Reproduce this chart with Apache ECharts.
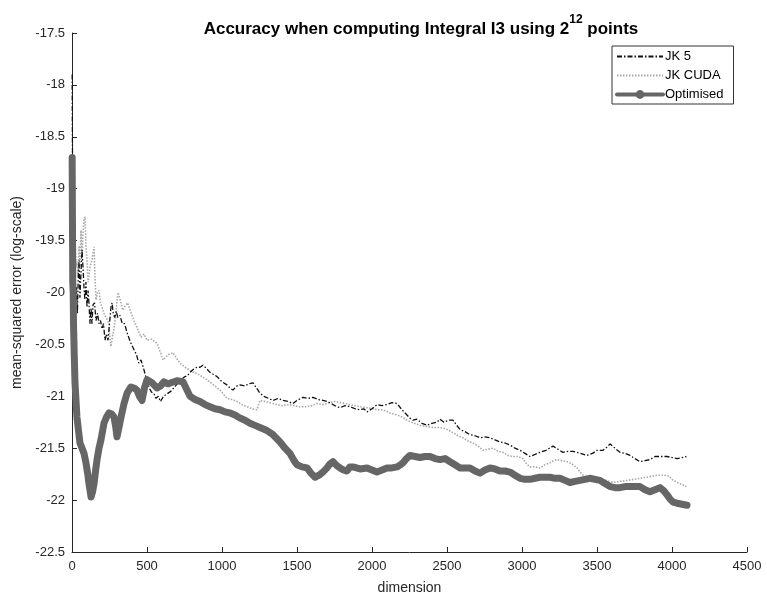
<!DOCTYPE html>
<html><head><meta charset="utf-8">
<script src="https://cdn.jsdelivr.net/npm/echarts@6/dist/echarts.min.js"></script>
<style>html,body{margin:0;padding:0;background:#fff}#c{width:767px;height:603px}</style>
</head><body><div id="c"></div>
<script>
var seriesNames = ['JK 5', 'JK CUDA', 'Optimised'];
var xTicks = [0, 500, 1000, 1500, 2000, 2500, 3000, 3500, 4000, 4500];
var yTicks = [-22.5, -22, -21.5, -21, -20.5, -20, -19.5, -19, -18.5, -18, -17.5];

var jk5 = [[1,-17.9],[2,-18.3],[4,-18.9],[6,-19.4],[9,-19.8],[13,-20.05],[18,-19.85],[24,-20.15],[30,-19.95],[36,-20.2],[41,-19.9],[47,-19.69],[53,-20.05],[60,-19.8],[67,-19.59],[73,-19.75],[80,-19.95],[86,-20.07],[93,-19.9],[100,-20.14],[107,-19.98],[113,-20.1],[120,-20.3],[127,-20.15],[133,-20.3],[140,-20.12],[150,-20.1],[160,-20.27],[170,-20.2],[180,-20.3],[190,-20.27],[200,-20.35],[210,-20.3],[220,-20.46],[230,-20.4],[240,-20.46],[250,-20.3],[260,-20.14],[267,-20.1],[275,-20.2],[285,-20.24],[295,-20.18],[305,-20.24],[320,-20.22],[335,-20.3],[350,-20.3],[370,-20.4],[390,-20.48],[413,-20.55],[430,-20.6],[445,-20.68],[460,-20.65],[475,-20.72],[490,-20.8],[500,-20.86],[515,-20.92],[530,-20.96],[545,-20.97],[560,-21.02],[575,-21.0],[590,-21.05],[610,-21.0],[630,-20.98],[660,-20.95],[690,-20.9],[720,-20.85],[753,-20.81],[770,-20.8],[787,-20.77],[810,-20.74],[833,-20.72],[853,-20.72],[873,-20.7],[895,-20.73],[920,-20.77],[945,-20.79],[967,-20.81],[1000,-20.86],[1033,-20.89],[1053,-20.92],[1073,-20.94],[1100,-20.9],[1120,-20.89],[1150,-20.9],[1180,-20.88],[1207,-20.87],[1230,-20.92],[1253,-20.97],[1280,-21.0],[1310,-21.02],[1340,-21.04],[1375,-21.02],[1407,-21.04],[1440,-21.05],[1473,-21.07],[1500,-21.04],[1540,-21.01],[1575,-21.02],[1607,-21.01],[1640,-21.03],[1673,-21.04],[1705,-21.05],[1740,-21.08],[1765,-21.1],[1787,-21.11],[1820,-21.09],[1853,-21.1],[1887,-21.12],[1920,-21.13],[1945,-21.12],[1967,-21.15],[2000,-21.12],[2033,-21.08],[2067,-21.09],[2100,-21.08],[2133,-21.06],[2167,-21.07],[2200,-21.13],[2233,-21.18],[2253,-21.21],[2273,-21.23],[2300,-21.22],[2333,-21.26],[2367,-21.28],[2400,-21.26],[2433,-21.25],[2453,-21.22],[2480,-21.25],[2510,-21.23],[2540,-21.23],[2565,-21.28],[2587,-21.32],[2620,-21.34],[2653,-21.37],[2687,-21.38],[2720,-21.4],[2753,-21.39],[2787,-21.4],[2820,-21.42],[2853,-21.44],[2887,-21.45],[2920,-21.47],[2953,-21.5],[2987,-21.52],[3020,-21.55],[3053,-21.58],[3087,-21.56],[3120,-21.54],[3160,-21.52],[3207,-21.48],[3240,-21.51],[3273,-21.54],[3307,-21.53],[3340,-21.53],[3390,-21.55],[3433,-21.57],[3470,-21.55],[3500,-21.52],[3540,-21.52],[3565,-21.49],[3587,-21.46],[3620,-21.5],[3653,-21.54],[3687,-21.55],[3720,-21.57],[3753,-21.6],[3787,-21.63],[3820,-21.62],[3853,-21.61],[3887,-21.58],[3927,-21.58],[3967,-21.58],[4000,-21.59],[4033,-21.6],[4067,-21.59],[4096,-21.58]];

var jkCuda = [[1,-19.9],[5,-19.5],[13,-19.6],[20,-19.47],[27,-19.75],[33,-19.7],[40,-19.85],[47,-19.55],[53,-19.75],[60,-19.4],[67,-19.66],[73,-19.45],[80,-19.3],[87,-19.27],[93,-19.55],[100,-19.69],[107,-19.9],[113,-19.85],[120,-19.75],[133,-19.69],[140,-19.62],[147,-19.56],[153,-19.85],[160,-20.07],[170,-20.0],[180,-19.98],[190,-20.1],[200,-20.14],[213,-20.2],[230,-20.25],[247,-20.3],[253,-20.45],[260,-20.52],[270,-20.42],[280,-20.35],[287,-20.27],[293,-20.2],[300,-20.08],[307,-20.0],[317,-20.05],[327,-20.1],[337,-20.17],[347,-20.17],[358,-20.12],[370,-20.1],[390,-20.18],[413,-20.27],[437,-20.35],[460,-20.43],[480,-20.4],[500,-20.46],[530,-20.45],[567,-20.49],[590,-20.58],[607,-20.65],[640,-20.6],[673,-20.58],[700,-20.64],[720,-20.68],[753,-20.72],[787,-20.75],[810,-20.77],[833,-20.78],[867,-20.81],[900,-20.84],[943,-20.89],[987,-20.94],[1010,-20.98],[1033,-21.02],[1067,-21.03],[1100,-21.05],[1133,-21.08],[1167,-21.1],[1200,-21.12],[1233,-21.13],[1253,-21.04],[1290,-21.05],[1340,-21.07],[1400,-21.09],[1453,-21.08],[1510,-21.1],[1567,-21.1],[1600,-21.09],[1633,-21.07],[1673,-21.08],[1720,-21.06],[1753,-21.05],[1787,-21.06],[1820,-21.07],[1853,-21.08],[1887,-21.09],[1920,-21.1],[1967,-21.11],[2007,-21.12],[2040,-21.13],[2073,-21.13],[2120,-21.16],[2167,-21.18],[2200,-21.2],[2233,-21.23],[2280,-21.26],[2320,-21.28],[2367,-21.29],[2407,-21.3],[2447,-21.3],[2487,-21.31],[2540,-21.35],[2573,-21.38],[2607,-21.4],[2640,-21.43],[2673,-21.45],[2707,-21.48],[2740,-21.52],[2773,-21.51],[2807,-21.5],[2840,-21.53],[2873,-21.54],[2907,-21.57],[2940,-21.58],[2973,-21.58],[3007,-21.6],[3030,-21.65],[3053,-21.68],[3087,-21.68],[3120,-21.69],[3153,-21.66],[3187,-21.64],[3210,-21.62],[3233,-21.61],[3267,-21.62],[3300,-21.63],[3333,-21.65],[3367,-21.69],[3387,-21.73],[3407,-21.76],[3440,-21.78],[3473,-21.79],[3520,-21.79],[3560,-21.81],[3607,-21.83],[3650,-21.82],[3700,-21.81],[3745,-21.8],[3787,-21.79],[3827,-21.78],[3867,-21.77],[3900,-21.76],[3953,-21.76],[3980,-21.77],[4000,-21.8],[4033,-21.83],[4067,-21.85],[4096,-21.87]];

var optimised = [[1,-18.7],[3,-19.3],[5,-19.9],[8,-20.0],[10,-20.3],[15,-20.6],[20,-20.87],[33,-21.2],[53,-21.45],[80,-21.55],[93,-21.64],[105,-21.75],[113,-21.84],[127,-21.97],[137,-21.92],[147,-21.84],[157,-21.72],[167,-21.61],[180,-21.5],[193,-21.42],[213,-21.26],[230,-21.2],[247,-21.16],[265,-21.17],[280,-21.2],[292,-21.3],[300,-21.39],[313,-21.3],[327,-21.2],[347,-21.07],[367,-20.97],[393,-20.91],[413,-20.92],[433,-20.94],[450,-21.0],[467,-21.04],[483,-20.92],[500,-20.84],[533,-20.87],[567,-20.92],[590,-20.9],[613,-20.86],[640,-20.88],[660,-20.87],[700,-20.85],[740,-20.86],[760,-20.92],[787,-21.0],[820,-21.03],[853,-21.05],[887,-21.08],[920,-21.1],[953,-21.12],[987,-21.13],[1020,-21.15],[1053,-21.16],[1087,-21.18],[1120,-21.21],[1153,-21.23],[1187,-21.26],[1220,-21.28],[1253,-21.3],[1300,-21.33],[1340,-21.37],[1387,-21.44],[1420,-21.5],[1453,-21.55],[1480,-21.62],[1500,-21.66],[1533,-21.68],[1567,-21.69],[1593,-21.74],[1620,-21.78],[1647,-21.76],[1673,-21.73],[1700,-21.69],[1720,-21.65],[1740,-21.63],[1767,-21.67],[1787,-21.69],[1810,-21.71],[1833,-21.72],[1853,-21.68],[1873,-21.68],[1920,-21.7],[1967,-21.69],[2000,-21.71],[2033,-21.73],[2067,-21.71],[2100,-21.69],[2133,-21.69],[2167,-21.68],[2190,-21.66],[2207,-21.64],[2230,-21.6],[2253,-21.57],[2287,-21.58],[2320,-21.59],[2353,-21.58],[2387,-21.58],[2420,-21.6],[2453,-21.61],[2487,-21.6],[2520,-21.63],[2553,-21.66],[2587,-21.69],[2620,-21.69],[2653,-21.69],[2687,-21.72],[2720,-21.74],[2753,-21.71],[2787,-21.69],[2820,-21.7],[2853,-21.72],[2887,-21.72],[2920,-21.73],[2953,-21.76],[2987,-21.79],[3020,-21.8],[3053,-21.8],[3087,-21.79],[3120,-21.78],[3153,-21.78],[3187,-21.78],[3220,-21.79],[3253,-21.79],[3287,-21.81],[3320,-21.83],[3353,-21.82],[3387,-21.81],[3420,-21.8],[3453,-21.79],[3487,-21.8],[3520,-21.81],[3553,-21.84],[3587,-21.87],[3620,-21.88],[3653,-21.88],[3687,-21.87],[3720,-21.87],[3753,-21.87],[3787,-21.87],[3820,-21.9],[3853,-21.92],[3887,-21.9],[3920,-21.88],[3945,-21.91],[3967,-21.95],[3987,-21.99],[4007,-22.02],[4033,-22.03],[4067,-22.04],[4100,-22.05]];

var FONT = 'Liberation Sans, Arial, sans-serif';
var chart = echarts.init(document.getElementById('c'), null, {renderer: 'canvas'});
chart.setOption({
  animation: false,
  backgroundColor: '#ffffff',
  title: {
    text: '{a|Accuracy when computing Integral I3 using 2}{s|12}{a| points}',
    left: 416, top: 9, textAlign: 'center',
    textStyle: {
      rich: {
        a: {fontFamily: FONT, fontWeight: 'bold', fontSize: 17, color: '#000', lineHeight: 24, verticalAlign: 'bottom'},
        s: {fontFamily: FONT, fontWeight: 'bold', fontSize: 12, color: '#000', lineHeight: 24, verticalAlign: 'top', padding: [0, 0, 9, 0]}
      }
    }
  },
  legend: {
    orient: 'vertical', left: 612, top: 46,
    data: [
      {name: seriesNames[0], itemStyle: {opacity: 0}},
      {name: seriesNames[1], itemStyle: {opacity: 0}},
      {name: seriesNames[2], lineStyle: {width: 4}}
    ],
    borderColor: '#333', borderWidth: 1, borderRadius: 0,
    padding: [4, 10, 3, 3], itemGap: 6, itemWidth: 46, itemHeight: 11,
    backgroundColor: '#fff',
    textStyle: {fontFamily: FONT, fontSize: 13, color: '#000', padding: [0, 0, 0, -3]}
  },
  grid: {left: 72, right: 20, top: 33, bottom: 51, containLabel: false},
  xAxis: {
    type: 'value', min: xTicks[0], max: xTicks[xTicks.length - 1], interval: 500,
    name: 'dimension', nameLocation: 'middle', nameGap: 29,
    nameTextStyle: {fontFamily: FONT, fontSize: 14, color: '#262626'},
    axisLine: {show: true, onZero: false, lineStyle: {color: '#262626', width: 1}},
    axisTick: {show: true, inside: true, length: 5, lineStyle: {color: '#262626'}},
    axisLabel: {fontFamily: FONT, fontSize: 13, color: '#262626', margin: 8,
      formatter: function (v) { return String(v); }},
    splitLine: {show: false}
  },
  yAxis: {
    type: 'value', min: yTicks[0], max: yTicks[yTicks.length - 1], interval: 0.5,
    name: 'mean-squared error (log-scale)', nameLocation: 'middle', nameGap: 47,
    nameTextStyle: {fontFamily: FONT, fontSize: 14, color: '#262626'},
    axisLine: {show: true, onZero: false, lineStyle: {color: '#262626', width: 1}},
    axisTick: {show: true, inside: true, length: 5, lineStyle: {color: '#262626'}},
    axisLabel: {fontFamily: FONT, fontSize: 13, color: '#262626', margin: 7,
      formatter: function (v) { return String(v); }},
    splitLine: {show: false}
  },
  series: [
    {name: seriesNames[0], type: 'line', data: jk5, symbol: 'none', z: 3,
     lineStyle: {color: '#111', width: 1.3, type: [5, 2, 1.5, 2]}, itemStyle: {color: '#111'}},
    {name: seriesNames[1], type: 'line', data: jkCuda, symbol: 'none', z: 2,
     lineStyle: {color: '#a8a8a8', width: 1.6, type: [1.5, 1.5]}, itemStyle: {color: '#a8a8a8'}},
    {name: seriesNames[2], type: 'line', data: optimised, symbol: 'circle', symbolSize: 5, showSymbol: false, z: 4,
     lineStyle: {color: '#666', width: 7, join: 'round', cap: 'round'}, itemStyle: {color: '#666'}}
  ]
});
</script></body></html>
